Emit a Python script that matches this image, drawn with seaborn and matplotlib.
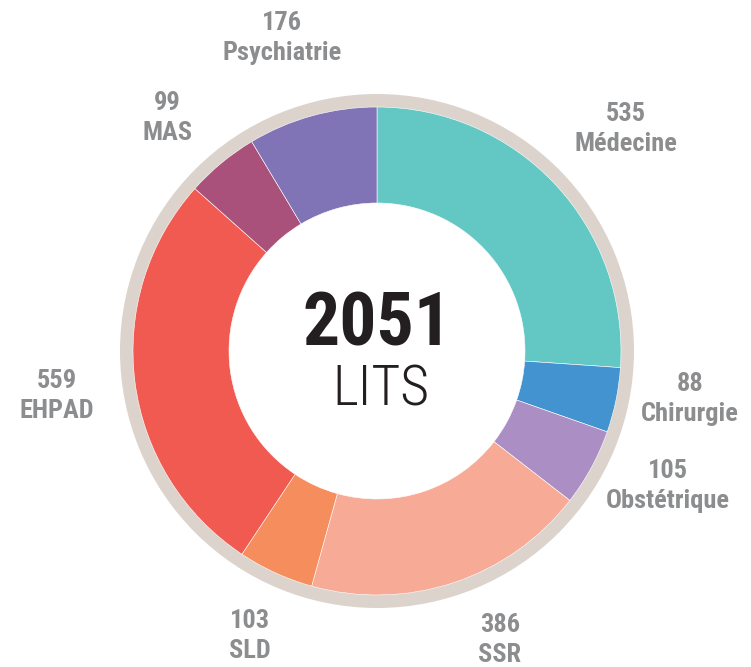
import matplotlib
matplotlib.use("Agg")
import matplotlib.pyplot as plt
import seaborn as sns
from matplotlib import font_manager

sns.set_theme(style="white")

categories = ["Médecine", "Chirurgie", "Obstétrique", "SSR", "SLD", "EHPAD", "MAS", "Psychiatrie"]
values = [535, 88, 105, 386, 103, 559, 99, 176]
colors = ["#63C7C3", "#4393D0", "#AB8FC4", "#F7AA96", "#F58D5C", "#F05A50", "#A9507B", "#8073B6"]
total_label = "2051"
unit_label = "LITS"

# label positions in pixel space (x, y from top)
label_pos = {
    "Médecine": (626, 129),
    "Chirurgie": (690, 399),
    "Obstétrique": (668, 486),
    "SSR": (500, 640),
    "SLD": (250, 636),
    "EHPAD": (57, 396),
    "MAS": (167, 118),
    "Psychiatrie": (282, 38),
}

avail = {f.name for f in font_manager.fontManager.ttflist}
narrow = "Roboto Condensed" if "Roboto Condensed" in avail else "Roboto"

W, H = 751, 667
fig = plt.figure(figsize=(W / 100, H / 100), dpi=100)
ax = fig.add_axes([0, 0, 1, 1])

cx, cy = 377, H - 351

# beige outer ring
ax.pie([1], colors=["#DCD3CC"], radius=257, center=(cx, cy),
       wedgeprops=dict(width=15, edgecolor="none"), frame=True)
# donut
ax.pie(values, colors=colors, radius=244, center=(cx, cy), startangle=90,
       counterclock=False, wedgeprops=dict(width=96, edgecolor="white", linewidth=0.4),
       frame=True)
ax.set_xlim(0, W)
ax.set_ylim(0, H)
ax.set_aspect("equal")
ax.axis("off")

grey = "#8C8D8F"
for cat, val in zip(categories, values):
    x, y = label_pos[cat]
    ax.text(x, H - y, f"{val}\n{cat}", ha="center", va="center", fontsize=19,
            fontweight="bold", color=grey, family=narrow, linespacing=1.32)

ax.text(377, H - 325, total_label, ha="center", va="center", fontsize=53,
        fontweight="bold", color="#231F20", family=narrow)
ax.text(381, H - 390, unit_label, ha="center", va="center", fontsize=40,
        fontweight="light", color="#231F20", family=narrow)

fig.savefig("out.png", dpi=100)
